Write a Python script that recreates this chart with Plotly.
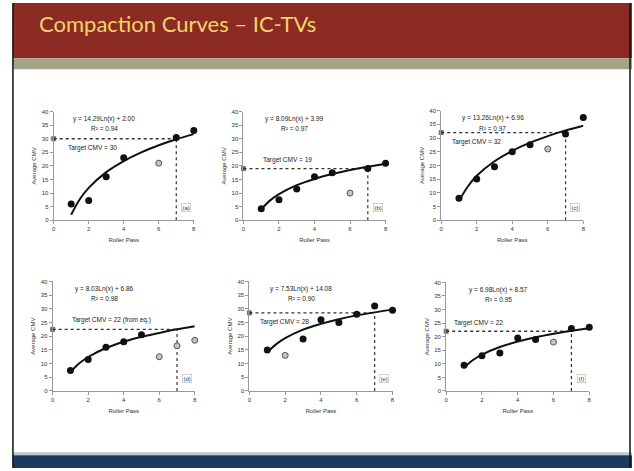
import plotly.graph_objects as go

# Slide title
slide_title = "Compaction Curves \u2013 IC-TVs"

# Roller passes for the measured points
passes = [1, 2, 3, 4, 5, 6, 7, 8]

# Average CMV per pass; None where the point is plotted as an open (excluded) marker
cmv_a = [6, 7.3, 16, 23, None, None, 30.5, 33]
open_a = [None, None, None, None, None, 21, None, None]
cmv_b = [4.2, 7.5, 11.5, 16, 17.5, None, 19, 21]
open_b = [None, None, None, None, None, 10, None, None]
cmv_c = [8, 15, 19.5, 25, 27.5, None, 31.5, 37.5]
open_c = [None, None, None, None, None, 26, None, None]
cmv_d = [7.5, 11.5, 16, 18, 20.5, None, None, None]
open_d = [None, None, None, None, None, 12.5, 16.5, 18.5]
cmv_e = [15, None, 19, 26, 25, 28, 31, 29.5]
open_e = [None, 13, None, None, None, None, None, None]
cmv_f = [9.5, 13, 14, 19.5, 19, None, 23, 23.5]
open_f = [None, None, None, None, None, 18, None, None]

# Logarithmic trend line
trend_x = [1, 1.5, 2, 3, 4, 5, 6, 7, 8]
trend_a = [2.0, 7.8, 11.9, 17.7, 21.8, 25.0, 27.6, 29.8, 31.7]
trend_b = [4.0, 7.3, 9.6, 12.9, 15.2, 17.0, 18.5, 19.7, 20.8]
trend_c = [7.0, 12.3, 16.2, 21.5, 25.3, 28.3, 30.7, 32.8, 34.5]
trend_d = [6.9, 10.1, 12.4, 15.7, 18.0, 19.8, 21.2, 22.5, 23.6]
trend_e = [14.1, 17.1, 19.3, 22.4, 24.5, 26.2, 27.6, 28.7, 29.7]
trend_f = [8.6, 11.4, 13.4, 16.2, 18.2, 19.8, 21.1, 22.2, 23.1]

# Target CMV and the pass where it is reached
targets = [30, 19, 32, 22.5, 28.5, 22]
target_pass = 7
target_texts = ["Target CMV = 30", "Target CMV = 19", "Target CMV = 32",
                "Target CMV = 22 (from eq.)", "Target CMV = 28", "Target CMV = 22"]
equations = ["y = 14.29Ln(x) + 2.00", "y = 8.09Ln(x) + 3.99", "y = 13.26Ln(x) + 6.96",
             "y = 8.03Ln(x) + 6.86", "y = 7.53Ln(x) + 14.08", "y = 6.98Ln(x) + 8.57"]
r_squared = ["R\u00b2 = 0.94", "R\u00b2 = 0.97", "R\u00b2 = 0.97",
             "R\u00b2 = 0.98", "R\u00b2 = 0.90", "R\u00b2 = 0.95"]
panel_tags = ["(a)", "(b)", "(c)", "(d)", "(e)", "(f)"]

x_ticks = [0, 2, 4, 6, 8]
y_ticks = [0, 5, 10, 15, 20, 25, 30, 35, 40]

W, H = 634, 471
# plot areas in pixels: left, right, top, bottom
boxes = [(52, 193, 110, 220), (243, 386, 110, 220), (442, 585, 109, 220),
         (51, 194, 282, 393), (249, 393, 282, 393), (447, 591, 283, 393)]
# where the target label sits relative to the dashed line
label_shift = [-3.4, 3.2, -3.4, 3.4, -3.4, 3.0]
label_x = [0.7, 1.0, 0.5, 1.0, 0.5, 0.3]

filled = [cmv_a, cmv_b, cmv_c, cmv_d, cmv_e, cmv_f]
opened = [open_a, open_b, open_c, open_d, open_e, open_f]
trends = [trend_a, trend_b, trend_c, trend_d, trend_e, trend_f]

font_small = dict(family="Liberation Sans, Arial", size=6, color="#333333")
font_note = dict(family="Liberation Sans, Arial", size=6.5, color="#222222")

fig = go.Figure()
layout = {}
annotations = []
shapes = []

# slide background pieces
shapes += [
    dict(type="rect", xref="paper", yref="paper", x0=11 / W, x1=1, y0=1 - 56 / H, y1=1,
         fillcolor="#8c2b24", line_width=0, layer="below"),
    dict(type="rect", xref="paper", yref="paper", x0=11 / W, x1=1, y0=1 - 67 / H, y1=1 - 56 / H,
         fillcolor="#a4a385", line_width=0, layer="below"),
    dict(type="rect", xref="paper", yref="paper", x0=11 / W, x1=1, y0=1 - 458 / H, y1=1 - 455 / H,
         fillcolor="#b9c8d8", line_width=0, layer="below"),
    dict(type="rect", xref="paper", yref="paper", x0=11 / W, x1=1, y0=0, y1=1 - 458 / H,
         fillcolor="#1b3a5e", line_width=0, layer="below"),
    dict(type="line", xref="paper", yref="paper", x0=11 / W, x1=11 / W, y0=0, y1=1,
         line=dict(color="#111111", width=1.5), layer="below"),
    dict(type="line", xref="paper", yref="paper", x0=632 / W, x1=632 / W, y0=0, y1=1,
         line=dict(color="#111111", width=1.5), layer="below"),
]

annotations.append(dict(text=slide_title, xref="paper", yref="paper", x=35 / W, y=1 - 21 / H,
                        xanchor="left", yanchor="middle", showarrow=False,
                        font=dict(family="Lato, Open Sans", size=22, color="#f2d46a")))

for i in range(6):
    n = "" if i == 0 else str(i + 1)
    xa, ya = "x" + n, "y" + n
    l, r, t, b = boxes[i]
    layout["xaxis" + n] = dict(domain=[l / W, r / W], anchor=ya, range=[0, 8],
                               tickvals=x_ticks, showgrid=False, zeroline=False,
                               showline=True, linecolor="#999999", linewidth=1,
                               ticks="outside", ticklen=3, tickcolor="#999999",
                               tickfont=font_small,
                               title=dict(text="Roller Pass", font=font_small, standoff=6))
    layout["yaxis" + n] = dict(domain=[1 - b / H, 1 - t / H], anchor=xa, range=[0, 40],
                               tickvals=y_ticks, showgrid=False, zeroline=False,
                               showline=True, linecolor="#999999", linewidth=1,
                               ticks="outside", ticklen=3, tickcolor="#999999",
                               tickfont=font_small,
                               title=dict(text="Average CMV", font=font_small, standoff=4))

    T = targets[i]
    fig.add_trace(go.Scatter(x=[0, target_pass], y=[T, T], xaxis=xa, yaxis=ya, mode="lines+markers",
                             line=dict(color="#333333", width=1.3, dash="dot"),
                             marker=dict(symbol="square", size=[4, 0], color="#222222"),
                             cliponaxis=False, showlegend=False))
    fig.add_trace(go.Scatter(x=[target_pass, target_pass], y=[0, T], xaxis=xa, yaxis=ya, mode="lines",
                             line=dict(color="#333333", width=1.2, dash="dot"), showlegend=False))
    fig.add_trace(go.Scatter(x=trend_x, y=trends[i], xaxis=xa, yaxis=ya, mode="lines",
                             line=dict(color="#111111", width=2, shape="spline"), showlegend=False))
    fig.add_trace(go.Scatter(x=passes, y=filled[i], xaxis=xa, yaxis=ya, mode="markers",
                             marker=dict(color="#111111", size=7), cliponaxis=False,
                             showlegend=False))
    fig.add_trace(go.Scatter(x=passes, y=opened[i], xaxis=xa, yaxis=ya, mode="markers",
                             marker=dict(color="#c4c4c4", size=6, line=dict(color="#555555", width=1)),
                             cliponaxis=False, showlegend=False))

    annotations.append(dict(text=equations[i], xref=xa, yref=ya, x=2.9, y=37.3, showarrow=False,
                            font=font_note))
    annotations.append(dict(text=r_squared[i], xref=xa, yref=ya, x=2.9, y=33.6, showarrow=False,
                            font=font_note))
    annotations.append(dict(text=target_texts[i], xref=xa, yref=ya, x=label_x[i],
                            y=T + label_shift[i], xanchor="left", showarrow=False, font=font_note))
    annotations.append(dict(text=panel_tags[i], xref=xa, yref=ya, x=7.55, y=4.5, showarrow=False,
                            font=font_small, bordercolor="#aaaaaa", borderwidth=0.5, borderpad=1,
                            bgcolor="white"))

fig.update_layout(width=W, height=H, margin=dict(l=0, r=0, t=0, b=0),
                  paper_bgcolor="white", plot_bgcolor="white",
                  shapes=shapes, annotations=annotations, **layout)

# page body has a default margin; drop it so the slide fills the window
fig.write_html("out.html", config={"displayModeBar": False},
               post_script="document.body.style.margin='0';")
